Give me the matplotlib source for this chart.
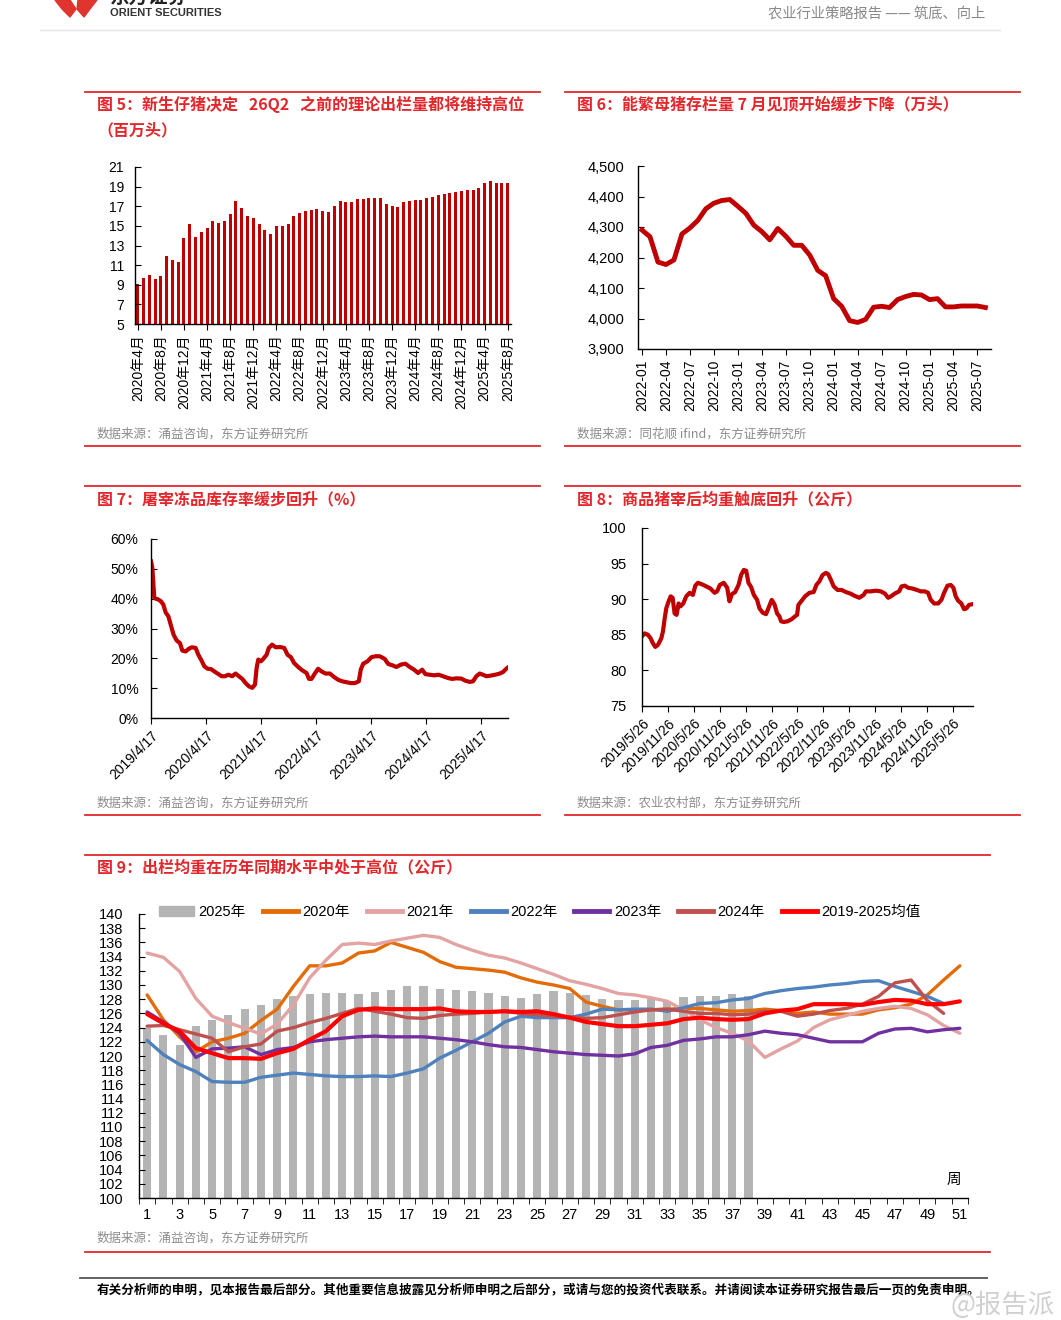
import numpy as np
import pandas as pd
import matplotlib
matplotlib.use('Agg')
import matplotlib.pyplot as plt
from matplotlib.patches import Polygon, Patch
from matplotlib.lines import Line2D
from matplotlib.ticker import FuncFormatter

plt.rcParams['font.family'] = ['Liberation Sans', 'Noto Sans CJK SC']
plt.rcParams['axes.unicode_minus'] = False

W, H = 1061, 1320
RED = '#E4262B'
DARK_RED = '#C00000'
CJK = ['Noto Sans CJK SC', 'Liberation Sans']

# ---- chart 5: monthly theoretical slaughter supply (million head)
months5 = pd.date_range('2020-04-01', periods=65, freq='MS')
labels5 = [f'{d.year}年{d.month}月' for d in months5]
supply5 = [9.1, 9.7, 9.95, 9.6, 9.9, 11.9, 11.55, 11.3, 13.8, 15.2,
           13.9, 14.35, 14.75, 15.5, 15.3, 15.5, 16.25, 17.55, 16.85, 16.0,
           15.85, 15.2, 14.6, 14.15, 15.0, 15.0, 15.15, 16.05, 16.3, 16.55,
           16.65, 16.7, 16.5, 16.4, 17.05, 17.5, 17.4, 17.45, 17.7, 17.75,
           17.8, 17.85, 17.8, 17.25, 17.0, 16.9, 17.4, 17.55, 17.6, 17.65,
           17.8, 17.9, 18.1, 18.25, 18.35, 18.45, 18.55, 18.65, 18.65, 18.85,
           19.35, 19.6, 19.35, 19.4, 19.4]

# ---- chart 6: breeding sow inventory (10k head)
months6 = pd.date_range('2022-01-01', periods=44, freq='MS')
labels6 = [f'{d.year}-{d.month:02d}' for d in months6]
sows6 = [4290, 4268, 4185, 4177, 4192, 4277, 4297, 4322, 4360, 4378, 4387, 4390,
         4368, 4345, 4306, 4285, 4258, 4295, 4270, 4240, 4240, 4208, 4158, 4140,
         4065, 4040, 3993, 3987, 3997, 4037, 4040, 4036, 4062, 4072, 4079, 4077,
         4062, 4065, 4038, 4038, 4041, 4041, 4041, 4036]

# ---- chart 7: frozen stock ratio (%), days after 2019-04-17
start7 = pd.Timestamp('2019-04-17')
days7 = [0, 9, 22, 49, 66, 82, 97, 115, 133, 150, 170, 192, 208, 230, 248, 270, 296, 314, 336, 354,
         376, 398, 420, 442, 469, 491, 513, 539, 561, 583, 606, 628, 650, 672, 690, 701, 712, 729, 745, 767,
         782, 804, 827, 855, 884, 906, 928, 950, 977, 1003, 1032, 1048, 1065, 1087, 1109, 1132, 1158, 1187,
         1216, 1242, 1269, 1297, 1326, 1353, 1379, 1392, 1408, 1437, 1463, 1490, 1518, 1551, 1574, 1600,
         1629, 1658, 1688, 1717, 1746, 1772, 1799, 1821, 1850, 1879, 1909, 1938, 1971, 1998, 2027, 2060,
         2086, 2115, 2137, 2159, 2181, 2203, 2225, 2254, 2285, 2314, 2336, 2351, 2365]
rate7 = [52.5, 50.3, 40.2, 39.7, 39.1, 38.0, 35.4, 34.1, 30.9, 27.9, 26.0, 25.1, 22.6, 22.3, 23.1, 23.7,
         23.5, 21.2, 19.2, 17.3, 16.5, 16.4, 15.6, 14.9, 14.0, 14.0, 14.5, 14.0, 14.9, 14.0, 13.1, 11.7,
         10.6, 10.1, 11.2, 16.8, 19.6, 19.0, 19.8, 21.2, 23.5, 24.6, 23.7, 23.8, 23.5, 21.2, 20.4, 18.4,
         17.1, 16.0, 15.1, 13.1, 13.1, 14.9, 16.5, 15.6, 14.9, 14.9, 13.7, 12.8, 12.3, 12.0, 11.7, 11.7,
         12.3, 16.2, 18.2, 19.0, 20.4, 20.7, 20.7, 19.8, 18.1, 17.7, 17.1, 17.9, 18.2, 17.1, 16.2, 15.1,
         16.2, 14.7, 14.5, 14.3, 14.5, 14.0, 13.4, 13.1, 13.3, 13.2, 12.5, 12.1, 12.3, 14.0, 14.9, 14.5,
         14.0, 14.2, 14.5, 14.9, 15.4, 16.2, 16.8]
ticks7 = [f'{y}-04-17' for y in range(2019, 2026)]

# ---- chart 8: carcass weight (kg), days after 2019-05-26
start8 = pd.Timestamp('2019-05-26')
days8 = [0, 19, 42, 61, 77, 94, 113, 136, 148, 160, 171, 188, 202, 216, 230, 244, 258, 272, 291, 312,
         336, 359, 376, 394, 422, 453, 483, 512, 530, 549, 577, 601, 617, 634, 657, 681, 699, 718, 735, 751,
         770, 789, 812, 829, 852, 875, 899, 915, 934, 953, 969, 981, 1000, 1028, 1056, 1080, 1094, 1103,
         1127, 1150, 1181, 1211, 1230, 1251, 1274, 1298, 1314, 1333, 1352, 1380, 1408, 1439, 1469, 1497,
         1533, 1563, 1580, 1615, 1650, 1685, 1713, 1737, 1756, 1784, 1814, 1831, 1854, 1878, 1908, 1939,
         1967, 1995, 2018, 2037, 2061, 2089, 2112, 2131, 2155, 2178, 2197, 2213, 2230, 2253, 2272, 2288,
         2307, 2331]
weight8 = [84.8, 85.2, 85.0, 84.5, 83.8, 83.3, 83.6, 84.5, 85.5, 87.3, 88.7, 89.7, 90.4, 90.2, 88.0,
           87.8, 89.4, 89.0, 89.4, 90.4, 90.9, 90.6, 91.9, 92.3, 92.1, 91.8, 91.5, 90.9, 91.1, 92.0,
           92.3, 91.6, 89.7, 90.7, 91.0, 92.0, 93.4, 94.1, 94.0, 92.3, 91.7, 90.6, 89.9, 88.7, 88.1,
           87.9, 89.1, 89.9, 89.3, 88.0, 87.6, 86.9, 86.8, 86.9, 87.2, 87.6, 87.8, 89.2, 89.8, 90.4,
           90.9, 91.0, 92.0, 92.5, 93.4, 93.7, 93.5, 92.7, 91.8, 91.3, 91.3, 91.0, 90.8, 90.5, 90.2,
           90.6, 91.1, 91.1, 91.2, 91.1, 90.8, 90.2, 90.4, 90.8, 91.1, 91.8, 91.9, 91.6, 91.5, 91.3,
           91.1, 91.1, 90.9, 89.9, 89.4, 89.4, 89.9, 90.9, 91.9, 92.0, 91.6, 90.4, 89.8, 89.4, 88.6,
           88.7, 89.2, 89.3]
ticks8 = [f'{y}-{m:02d}-26' for y in range(2019, 2026) for m in (5, 11)][:13]

# ---- chart 9: weekly slaughter weight by year (kg)
w2025 = [124.0, 123.0, 121.6, 124.2, 125.1, 125.8, 126.6, 127.2, 128.0, 128.5, 128.7, 128.9, 128.9,
         128.7, 129.0, 129.3, 129.8, 129.8, 129.5, 129.3, 129.2, 128.9, 128.4, 128.2, 128.7, 129.1,
         128.9, 128.6, 128.0, 127.9, 127.9, 128.0, 127.8, 128.3, 128.4, 128.5, 128.7, 128.5]
w2020 = [128.6, 125.1, 122.7, 120.6, 122.0, 122.5, 123.2, 125.0, 126.6, 129.8, 132.7, 132.7, 133.1,
         134.5, 134.8, 136.0, 135.3, 134.6, 133.3, 132.5, 132.3, 132.1, 131.8, 131.0, 130.4, 130.0,
         129.5, 127.6, 127.0, 126.5, 126.5, 126.5, 126.6, 126.7, 126.7, 126.5, 126.3, 126.4, 126.6,
         126.4, 126.0, 126.2, 125.9, 125.9, 125.9, 126.5, 126.8, 127.3, 128.6, 130.7, 132.7]
w2021 = [134.5, 133.9, 131.9, 128.1, 125.6, 124.7, 123.9, 123.1, 124.5, 127.2, 131.0, 133.5, 135.7,
         135.9, 135.7, 136.2, 136.6, 137.0, 136.7, 135.7, 134.9, 134.2, 133.8, 133.1, 132.3, 131.5,
         130.6, 130.1, 129.5, 128.8, 128.6, 128.2, 127.7, 126.5, 125.1, 124.0, 123.2, 122.1, 119.8,
         121.0, 122.1, 124.0, 125.1, 125.7, 126.3, 126.7, 127.0, 126.7, 125.8, 124.3, 123.2]
w2022 = [122.2, 120.2, 118.8, 117.8, 116.4, 116.3, 116.3, 117.0, 117.3, 117.6, 117.4, 117.2, 117.1,
         117.1, 117.2, 117.1, 117.6, 118.2, 119.7, 120.8, 122.0, 123.2, 124.8, 125.6, 125.4, 125.4,
         125.4, 125.9, 126.6, 126.5, 126.6, 126.6, 126.3, 126.8, 127.4, 127.5, 127.9, 128.1, 128.8,
         129.2, 129.5, 129.7, 130.0, 130.2, 130.5, 130.6, 129.8, 129.1, 128.4, 127.4]
w2023 = [126.2, 124.8, 123.2, 119.8, 121.0, 121.1, 121.3, 120.2, 120.9, 121.2, 122.0, 122.3, 122.5,
         122.7, 122.8, 122.7, 122.7, 122.7, 122.5, 122.3, 122.0, 121.6, 121.3, 121.2, 120.9, 120.6,
         120.4, 120.2, 120.1, 120.0, 120.3, 121.2, 121.5, 122.2, 122.4, 122.7, 122.7, 123.0, 123.5,
         123.2, 123.0, 122.5, 122.0, 122.0, 122.0, 123.2, 123.8, 123.9, 123.4, 123.7, 123.9]
w2024 = [124.2, 124.3, 123.7, 123.1, 122.5, 120.6, 121.3, 121.7, 123.5, 124.0, 124.7, 125.3, 126.0,
         126.7, 126.3, 125.9, 125.4, 125.3, 125.7, 125.9, 126.0, 126.2, 126.3, 126.0, 125.8, 125.6,
         125.5, 125.3, 125.4, 125.8, 126.2, 126.5, 126.6, 126.3, 126.0, 126.0, 125.8, 125.9, 126.3,
         126.3, 125.6, 125.9, 126.4, 126.7, 127.3, 128.4, 130.3, 130.7, 127.8, 126.0]
wmean = [125.9, 124.6, 123.5, 121.1, 120.4, 119.7, 119.7, 119.6, 120.4, 121.0, 122.3, 123.5, 125.6,
         126.5, 126.7, 126.6, 126.6, 126.6, 126.7, 126.3, 126.2, 126.2, 126.3, 126.2, 126.3, 125.9,
         125.4, 124.8, 124.5, 124.2, 124.2, 124.4, 124.6, 125.2, 125.4, 125.2, 125.1, 125.2, 126.0,
         126.4, 126.6, 127.3, 127.3, 127.3, 127.2, 127.6, 127.9, 127.8, 127.3, 127.3, 127.7]


def rect(l, t, r, b):
    return [l / W, 1 - b / H, (r - l) / W, (b - t) / H]


def style(ax):
    for s in ['top', 'right']:
        ax.spines[s].set_visible(False)
    for s in ['left', 'bottom']:
        ax.spines[s].set_linewidth(1.0)
        ax.spines[s].set_color('black')
    ax.tick_params(axis='y', direction='in', length=4, labelsize=10)
    ax.tick_params(axis='x', direction='out', length=4, labelsize=10)


fig = plt.figure(figsize=(W / 100, H / 100), dpi=100)

# page decoration in pixel coordinates
bg = fig.add_axes([0, 0, 1, 1], zorder=-1)
bg.set_xlim(0, W)
bg.set_ylim(H, 0)
bg.axis('off')

bg.add_patch(Polygon([(55, 0), (70, 0), (76, 9), (70, 17), (62, 9)], color='#E0352F'))
bg.add_patch(Polygon([(78, 0), (97, 0), (90, 9), (84, 17), (77, 9)], color='#E0352F'))
bg.text(110, -3, '东方证券', fontsize=14, fontweight='bold', color='#222222',
        family=CJK, va='center')
bg.text(110, 13, 'ORIENT SECURITIES', fontsize=8, fontweight='bold', color='#333333', va='center')
bg.text(985, 14, '农业行业策略报告 —— 筑底、向上', fontsize=10.3, color='#888888',
        family=CJK, ha='right', va='center')
bg.plot([40, 1000], [30, 30], color='#E5E5E5', lw=1)

for y in [92, 446, 486, 815]:
    bg.plot([85, 540], [y, y], color=RED, lw=1.3)
    bg.plot([565, 1020], [y, y], color=RED, lw=1.3)
for y in [855, 1252]:
    bg.plot([85, 990], [y, y], color=RED, lw=1.3)
bg.plot([80, 987], [1278, 1278], color='#555555', lw=1.3)

titles = [
    (97, 104, '图 5：新生仔猪决定   26Q2   之前的理论出栏量都将维持高位'),
    (97, 130, '（百万头）'),
    (577, 104, '图 6：能繁母猪存栏量 7 月见顶开始缓步下降（万头）'),
    (97, 499, '图 7：屠宰冻品库存率缓步回升（%）'),
    (577, 499, '图 8：商品猪宰后均重触底回升（公斤）'),
    (97, 867, '图 9：出栏均重在历年同期水平中处于高位（公斤）'),
]
for x, y, t in titles:
    bg.text(x, y, t, fontsize=11.5, color=RED, family=CJK, fontweight='bold', va='center')

sources = [
    (97, 434, '数据来源：涌益咨询，东方证券研究所'),
    (577, 434, '数据来源：同花顺 ifind，东方证券研究所'),
    (97, 803, '数据来源：涌益咨询，东方证券研究所'),
    (577, 803, '数据来源：农业农村部，东方证券研究所'),
    (97, 1238, '数据来源：涌益咨询，东方证券研究所'),
]
for x, y, t in sources:
    bg.text(x, y, t, fontsize=9, color='#8C8C8C', family=CJK, va='center')

bg.text(97, 1290, '有关分析师的申明，见本报告最后部分。其他重要信息披露见分析师申明之后部分，'
        '或请与您的投资代表联系。并请阅读本证券研究报告最后一页的免责申明。',
        fontsize=9.05, fontweight='bold', color='black', family=CJK, va='center')
bg.text(1055, 1305, '@报告派', fontsize=19, color='#D0D0D0', family=CJK, ha='right', va='center')

# chart 5
ax5 = fig.add_axes(rect(135, 167, 511, 324))
x5 = np.arange(len(supply5))
ax5.bar(x5, supply5, width=0.52, color=DARK_RED)
ax5.set_ylim(5, 21)
ax5.set_yticks(range(5, 22, 2))
ax5.set_xlim(-0.47, 64.57)
ax5.set_xticks(x5[::4])
ax5.set_xticklabels(labels5[::4], rotation=90)
style(ax5)
ax5.tick_params(axis='y', pad=8)

# chart 6
ax6 = fig.add_axes(rect(638, 166, 991, 349))
x6 = np.arange(len(sows6))
ax6.plot(x6, sows6, color=DARK_RED, lw=3.5, solid_joinstyle='round')
ax6.set_ylim(3900, 4500)
ax6.set_yticks(range(3900, 4501, 100))
ax6.yaxis.set_major_formatter(FuncFormatter(lambda v, p: f'{v:,.0f}'))
ax6.set_xlim(-0.5, 43.7)
ax6.set_xticks(x6[::3])
ax6.set_xticklabels(labels6[::3], rotation=90)
style(ax6)
ax6.tick_params(axis='y', pad=10, labelsize=10.5)

# chart 7
ax7 = fig.add_axes(rect(151, 539, 508, 718))
d7 = start7 + pd.to_timedelta(days7, unit='D')
ax7.plot(d7, rate7, color=DARK_RED, lw=3, solid_joinstyle='round')
ax7.set_ylim(0, 60)
ax7.set_yticks(range(0, 61, 10))
ax7.yaxis.set_major_formatter(FuncFormatter(lambda v, p: f'{v:.0f}%'))
ax7.set_xlim(start7, start7 + pd.Timedelta(days=2369))
t7 = pd.to_datetime(ticks7)
ax7.set_xticks(t7)
ax7.set_xticklabels([f'{d.year}/{d.month}/{d.day}' for d in t7], rotation=45,
                    ha='right', rotation_mode='anchor')
style(ax7)
ax7.tick_params(axis='y', pad=9)

# chart 8
ax8 = fig.add_axes(rect(642, 528, 973, 706))
d8 = start8 + pd.to_timedelta(days8, unit='D')
ax8.plot(d8, weight8, color=DARK_RED, lw=3, solid_joinstyle='round')
ax8.set_ylim(75, 100)
ax8.set_yticks(range(75, 101, 5))
ax8.set_xlim(start8, start8 + pd.Timedelta(days=2335))
t8 = pd.to_datetime(ticks8)
ax8.set_xticks(t8)
ax8.set_xticklabels([f'{d.year}/{d.month}/{d.day}' for d in t8], rotation=45,
                    ha='right', rotation_mode='anchor')
style(ax8)
ax8.tick_params(axis='y', pad=11, labelsize=10.5)

# chart 9
ax9 = fig.add_axes(rect(139, 914, 968, 1198))
ax9.bar(np.arange(1, len(w2025) + 1), w2025, width=0.5, color='#B4B4B4', zorder=1)
series9 = [(w2020, '#E36C09', 2.4), (w2021, '#E2A3A2', 2.4), (w2022, '#4F81BD', 2.4),
           (w2023, '#7030A0', 2.4), (w2024, '#C0504D', 2.4), (wmean, '#FF0000', 3.0)]
for vals, c, lw in series9:
    ax9.plot(np.arange(1, len(vals) + 1), vals, color=c, lw=lw, zorder=2,
             solid_joinstyle='round', solid_capstyle='round')
ax9.set_ylim(100, 140)
ax9.set_yticks(range(100, 141, 2))
ax9.set_xlim(0.5, 51.5)
ax9.set_xticks(range(1, 52, 2))
ax9.set_xticks(np.arange(0.5, 52, 1), minor=True)
style(ax9)
ax9.tick_params(axis='x', which='major', length=0, labelsize=10.5, pad=7)
ax9.tick_params(axis='x', which='minor', direction='out', length=4)
ax9.tick_params(axis='y', pad=11, labelsize=10.5)
ax9.text(50.6, 102.5, '周', fontsize=10.5, family=CJK, ha='center', va='center')

handles = [Patch(color='#B4B4B4')] + [Line2D([], [], color=c, lw=3.5) for _, c, _ in series9]
names = ['2025年', '2020年', '2021年', '2022年', '2023年', '2024年', '2019-2025均值']
ax9.legend(handles, names, loc='center left', bbox_to_anchor=(159 / W, 1 - 912 / H),
           bbox_transform=fig.transFigure, ncol=7, frameon=False,
           handlelength=2.4, handletextpad=0.3, columnspacing=1.18, borderpad=0,
           borderaxespad=0, prop={'family': ['Liberation Sans', 'Noto Sans CJK SC'], 'size': 10.5})

fig.savefig('out.png', dpi=100)
